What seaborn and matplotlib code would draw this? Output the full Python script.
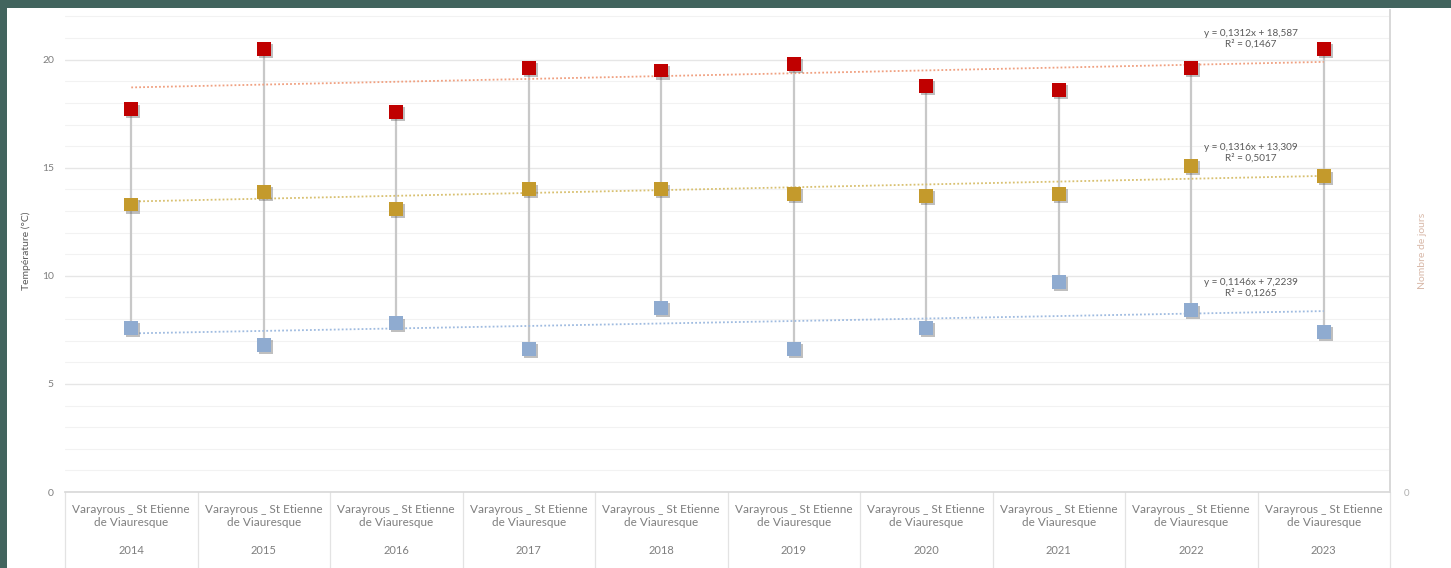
import numpy as np
import pandas as pd
import matplotlib
matplotlib.use("Agg")
import matplotlib.pyplot as plt
import matplotlib.patheffects as pe
from matplotlib.patches import Rectangle
import seaborn as sns

# ---------------- DATA ----------------
years = ["2014", "2015", "2016", "2017", "2018", "2019", "2020", "2021", "2022", "2023"]
station = "Varayrous _ St Etienne\nde Viauresque"
t_max = [17.7, 20.5, 17.6, 19.6, 19.5, 19.8, 18.8, 18.6, 19.6, 20.5]
t_mean = [13.3, 13.9, 13.1, 14.0, 14.0, 13.8, 13.7, 13.8, 15.1, 14.6]
t_min = [7.6, 6.8, 7.8, 6.6, 8.5, 6.6, 7.6, 9.7, 8.4, 7.4]

# trendline coefficients shown on the chart (slope, intercept, R²)
trend_max = (0.1312, 18.587, 0.1467)
trend_mean = (0.1316, 13.309, 0.5017)
trend_min = (0.1146, 7.2239, 0.1265)

# ---------------- STYLE ----------------
RED = "#c00000"
GOLD = "#c49a2c"
BLUE = "#8fabd0"
GREY_TXT = "#7f7f7f"

sns.set_theme(style="white")
plt.rcParams["font.family"] = ["Lato", "DejaVu Sans"]

df = pd.DataFrame({"year": years, "max": t_max, "mean": t_mean, "min": t_min})
df["x"] = np.arange(len(years))
long = df.melt(id_vars=["year", "x"], value_vars=["max", "mean", "min"],
               var_name="serie", value_name="temp")

fig = plt.figure(figsize=(14.51, 5.68), dpi=100, facecolor="#42645e")
fig.patches.append(Rectangle((7 / 1451, 0), 1, 1 - 8 / 568, transform=fig.transFigure,
                             facecolor="white", edgecolor="none", zorder=-10))
ax = fig.add_axes([65 / 1451, 76 / 568, (1390 - 65) / 1451, (492 - 10) / 568])
ax.set_facecolor("white")

# min-max vertical connectors
ax.vlines(df["x"], df["min"], df["max"], color="#c8c8c8", lw=1.6, zorder=2)

# trendlines
xs = np.array([df["x"].min(), df["x"].max()])
for (a, b, r2), col in [(trend_max, "#f0a080"), (trend_mean, "#d8c070"), (trend_min, "#9fbbe0")]:
    yy = a * (xs + 1) + b
    sns.lineplot(x=xs, y=yy, ax=ax, color=col, lw=1.3, linestyle=(0, (1, 1.2)), zorder=3)
    label = f"y = {a:g}x + {b:g}".replace(".", ",") + f"\nR² = {r2:.4f}".replace(".", ",")
    ax.text(8.45, a * 10 + b + 0.6, label, ha="center", va="bottom",
            fontsize=7.2, color="#595959", linespacing=1.25, zorder=5)

# markers
sns.scatterplot(data=long, x="x", y="temp", hue="serie", hue_order=["max", "mean", "min"],
                palette=[RED, GOLD, BLUE], marker="s", s=100, edgecolor="none",
                legend=False, ax=ax, zorder=4)
ax.collections[-1].set_path_effects([pe.SimplePatchShadow(offset=(1.5, -1.5),
                                                          shadow_rgbFace="#606060", alpha=0.4),
                                     pe.Normal()])

# axes
ax.set_xlim(-0.5, len(years) - 0.5)
ax.set_ylim(0, 22.3)
ax.set_yticks([0, 5, 10, 15, 20])
ax.set_yticks(np.arange(0, 23, 1), minor=True)
ax.grid(which="major", axis="y", color="#e6e6e6", lw=1.0)
ax.grid(which="minor", axis="y", color="#f2f2f2", lw=0.8)
ax.tick_params(axis="y", which="both", length=0, labelsize=7.5, labelcolor=GREY_TXT, pad=8)
ax.set_ylabel("Température (°C)", fontsize=7.5, color="#595959")
ax.yaxis.set_label_coords(-0.026, 0.5)
ax.set_xlabel("")
ax.set_xticks(df["x"])
ax.set_xticklabels([])
ax.tick_params(axis="x", length=0)
for s in ["top", "left"]:
    ax.spines[s].set_visible(False)
ax.spines["bottom"].set_color("#d9d9d9")
ax.spines["right"].set_color("#d9d9d9")

# category labels (two levels)
trans = ax.get_xaxis_transform()
for i, yr in zip(df["x"], years):
    ax.text(i, -0.024, station, transform=trans, ha="center", va="top", fontsize=8.5,
            color=GREY_TXT, linespacing=1.3)
    ax.text(i, -0.11, yr, transform=trans, ha="center", va="top", fontsize=8, color=GREY_TXT)
for b in np.arange(-0.5, len(years), 1.0):
    ax.plot([b, b], [0, -0.16], transform=trans, color="#e3e3e3", lw=0.9, clip_on=False)

# secondary axis
ax2 = ax.twinx()
ax2.set_ylim(0, 22.3)
ax2.set_yticks([0])
ax2.tick_params(axis="y", length=0, labelsize=7, labelcolor="#b0b0b0", pad=10)
ax2.set_ylabel("Nombre de jours", fontsize=7.5, color="#d8b8a8", labelpad=6)
for s in ["top", "left", "bottom"]:
    ax2.spines[s].set_visible(False)
ax2.spines["right"].set_color("#d9d9d9")

fig.savefig("out.png", dpi=100, facecolor=fig.get_facecolor())
